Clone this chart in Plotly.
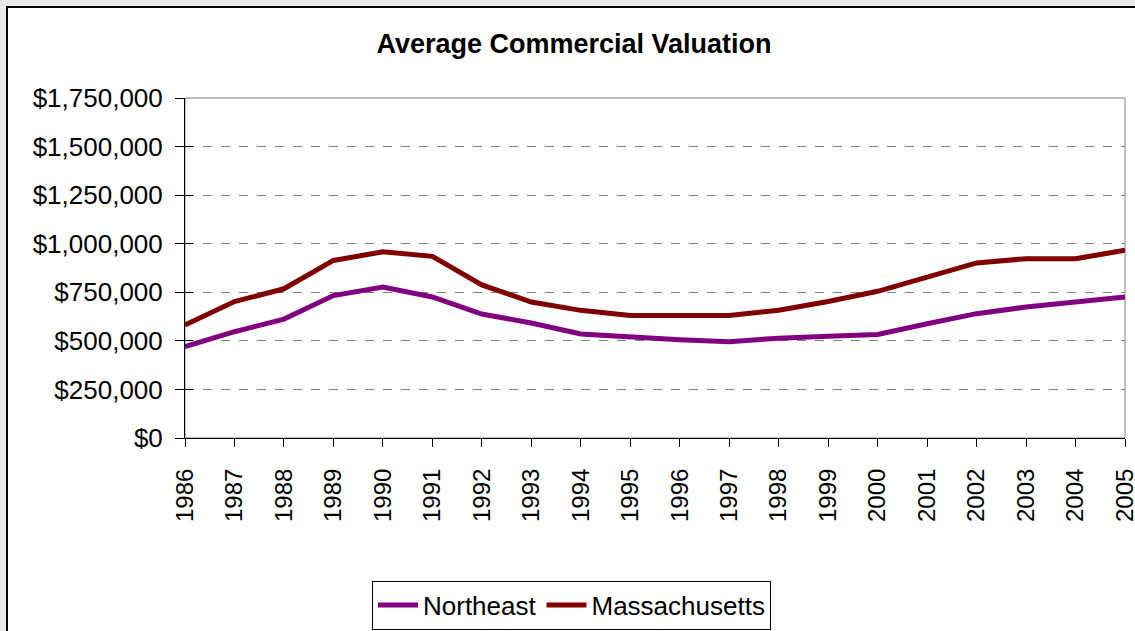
import plotly.graph_objects as go

years = list(range(1986, 2006))
northeast = [470000, 547000, 612000, 733000, 777000, 726000, 638000, 592000, 535000, 518000,
             506000, 496000, 514000, 524000, 533000, 588000, 640000, 674000, 701000, 726000]
massachusetts = [582000, 702000, 768000, 914000, 958000, 935000, 788000, 700000, 657000, 631000,
                 631000, 631000, 658000, 703000, 755000, 829000, 901000, 923000, 923000, 966000]

FONT = "Arial, Liberation Sans, sans-serif"

fig = go.Figure()
fig.add_trace(go.Scatter(x=years, y=northeast, mode="lines", name="Northeast",
                         line=dict(color="#800080", width=5)))
fig.add_trace(go.Scatter(x=years, y=massachusetts, mode="lines", name="Massachusetts",
                         line=dict(color="#800000", width=5)))
# invisible helper trace so the inside tick marks (cross ticks) on the value axis are drawn
fig.add_trace(go.Scatter(x=[years[0]], y=[0], yaxis="y2", mode="lines", showlegend=False,
                         hoverinfo="skip", line=dict(color="rgba(0,0,0,0)")))

L, R, T, B = 185, 10, 98, 193
W, H = 1135, 631
pw, ph = W - L - R, H - T - B

def px_x(p):
    return (p - L) / pw

def px_y(p):
    return (H - B - p) / ph

fig.update_layout(
    template="none",
    width=W, height=H,
    margin=dict(l=L, r=R, t=T, b=B, autoexpand=False),
    paper_bgcolor="#e8e8e8",
    plot_bgcolor="white",
    font=dict(family=FONT, color="black", size=24),
    title=dict(text="<b>Average Commercial Valuation</b>", font=dict(size=27, family=FONT),
               x=574 / W, xanchor="center", xref="container",
               y=1 - 44 / H, yanchor="middle", yref="container"),
    showlegend=True,
    legend=dict(orientation="h", xref="container", yref="container",
                x=571.5 / W, xanchor="center", y=1 - 605 / H, yanchor="middle",
                bordercolor="black", borderwidth=1, bgcolor="white",
                font=dict(size=26, family=FONT), itemwidth=40, tracegroupgap=0),
    shapes=[
        dict(type="rect", xref="paper", yref="paper",
             x0=px_x(7), x1=px_x(1150), y0=px_y(650), y1=px_y(7),
             line=dict(color="black", width=2), fillcolor="white", layer="below"),
        dict(type="rect", xref="paper", yref="paper", x0=0, x1=1, y0=0, y1=1,
             line=dict(color="#808080", width=1), fillcolor="rgba(0,0,0,0)", layer="below"),
    ],
)

fig.update_xaxes(range=[1986, 2005], tickmode="linear", tick0=1986, dtick=1,
                 tickangle=-90, showgrid=False, zeroline=False, automargin=False,
                 showline=True, linecolor="black", linewidth=1,
                 ticks="outside", ticklen=8, tickcolor="black", tickwidth=1,
                 ticklabelstandoff=12, ticklabeloverflow="allow",
                 tickfont=dict(size=24, family=FONT))
fig.update_yaxes(range=[0, 1750000], tickmode="linear", tick0=0, dtick=250000,
                 tickprefix="$", tickformat=",.0f", automargin=False,
                 showgrid=True, gridcolor="#808080", griddash="dash", gridwidth=1,
                 zeroline=False, showline=True, linecolor="black", linewidth=1,
                 ticks="outside", ticklen=9, tickcolor="black", tickwidth=1,
                 ticklabelstandoff=7, ticklabeloverflow="allow",
                 tickfont=dict(size=26, family=FONT))
fig.update_layout(yaxis2=dict(overlaying="y", side="left", range=[0, 1750000],
                              tickmode="linear", tick0=0, dtick=250000, automargin=False,
                              ticks="inside", ticklen=8, tickcolor="black", tickwidth=1,
                              showticklabels=False, showgrid=False, zeroline=False,
                              showline=False))

fig.write_html("out.html", config={"displayModeBar": False},
               post_script="document.body.style.margin='0';document.body.style.background='#e8e8e8';")
